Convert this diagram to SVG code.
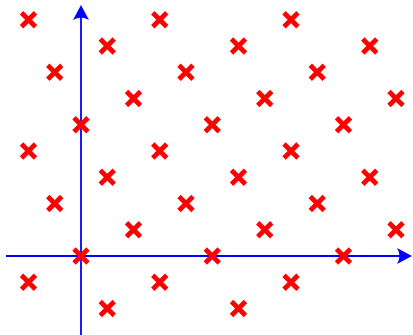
<svg xmlns="http://www.w3.org/2000/svg" xmlns:xlink="http://www.w3.org/1999/xlink" width="413" height="335" viewBox="0 0 413 335">
<style>
.axis{stroke:#0000ff;stroke-width:1.8;fill:none}
.head{fill:#0000ff;stroke:none}
</style>
<defs>
<path id="x" d="M-7,-7L7,7M-7,7L7,-7" stroke="#ff0000" stroke-width="4.8" fill="none"/>
</defs>
<rect width="413" height="335" fill="#ffffff"/>
<g id="connectors">
<line class="axis" x1="6" y1="256" x2="402" y2="256"/>
<path class="head" d="M412,256 L397,248 Q402,256 397,264 Z"/>
<line class="axis" x1="81" y1="335" x2="81" y2="15"/>
<path class="head" d="M81,5 L73,20 Q81,15 89,20 Z"/>
</g>
<g id="p1"><use xlink:href="#x" x="28.5" y="19.75"/></g>
<g id="p2"><use xlink:href="#x" x="159.75" y="19.75"/></g>
<g id="p3"><use xlink:href="#x" x="291" y="19.75"/></g>
<g id="p4"><use xlink:href="#x" x="107.25" y="46"/></g>
<g id="p5"><use xlink:href="#x" x="238.5" y="46"/></g>
<g id="p6"><use xlink:href="#x" x="369.75" y="46"/></g>
<g id="p7"><use xlink:href="#x" x="54.75" y="72.25"/></g>
<g id="p8"><use xlink:href="#x" x="186" y="72.25"/></g>
<g id="p9"><use xlink:href="#x" x="317.25" y="72.25"/></g>
<g id="p10"><use xlink:href="#x" x="133.5" y="98.5"/></g>
<g id="p11"><use xlink:href="#x" x="264.75" y="98.5"/></g>
<g id="p12"><use xlink:href="#x" x="396" y="98.5"/></g>
<g id="p13"><use xlink:href="#x" x="81" y="124.75"/></g>
<g id="p14"><use xlink:href="#x" x="212.25" y="124.75"/></g>
<g id="p15"><use xlink:href="#x" x="343.5" y="124.75"/></g>
<g id="p16"><use xlink:href="#x" x="28.5" y="151"/></g>
<g id="p17"><use xlink:href="#x" x="159.75" y="151"/></g>
<g id="p18"><use xlink:href="#x" x="291" y="151"/></g>
<g id="p19"><use xlink:href="#x" x="107.25" y="177.25"/></g>
<g id="p20"><use xlink:href="#x" x="238.5" y="177.25"/></g>
<g id="p21"><use xlink:href="#x" x="369.75" y="177.25"/></g>
<g id="p22"><use xlink:href="#x" x="54.75" y="203.5"/></g>
<g id="p23"><use xlink:href="#x" x="186" y="203.5"/></g>
<g id="p24"><use xlink:href="#x" x="317.25" y="203.5"/></g>
<g id="p25"><use xlink:href="#x" x="133.5" y="229.75"/></g>
<g id="p26"><use xlink:href="#x" x="264.75" y="229.75"/></g>
<g id="p27"><use xlink:href="#x" x="396" y="229.75"/></g>
<g id="p28"><use xlink:href="#x" x="81" y="256"/></g>
<g id="p29"><use xlink:href="#x" x="212.25" y="256"/></g>
<g id="p30"><use xlink:href="#x" x="343.5" y="256"/></g>
<g id="p31"><use xlink:href="#x" x="28.5" y="282.25"/></g>
<g id="p32"><use xlink:href="#x" x="159.75" y="282.25"/></g>
<g id="p33"><use xlink:href="#x" x="291" y="282.25"/></g>
<g id="p34"><use xlink:href="#x" x="107.25" y="308.5"/></g>
<g id="p35"><use xlink:href="#x" x="238.5" y="308.5"/></g>
</svg>
